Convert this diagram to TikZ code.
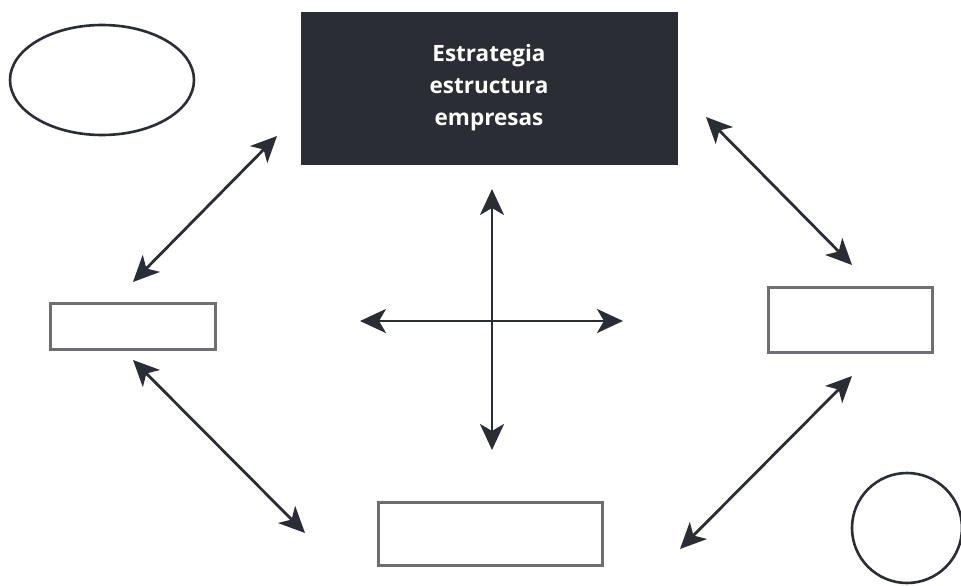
\documentclass[tikz,border=0pt]{standalone}
\usepackage{fontspec}
\setmainfont{Open Sans}
\usetikzlibrary{arrows.meta}
\definecolor{ink}{HTML}{2B2D35}
\definecolor{framegray}{HTML}{6E6E72}
\tikzset{
  every picture/.style={x=1pt,y=-1pt},
  titlebox/.style={fill=ink,draw=ink,minimum width=376pt,minimum height=152pt,inner sep=0pt,
    text=white,font=\bfseries\fontsize{22.5}{32}\selectfont,align=center},
  emptybox/.style={draw=framegray,line width=2.2pt,inner sep=0pt},
  outline/.style={draw=ink,line width=2.6pt},
  twoway/.style={draw=ink,line width=2.8pt,
    {Stealth[length=26pt,width=24pt,inset=7pt]}-{Stealth[length=26pt,width=24pt,inset=7pt]}}
}
\begin{document}
\begin{tikzpicture}
\useasboundingbox (0,0) rectangle (961,586);
\fill[white] (0,0) rectangle (961,586);

% central title block
\node[titlebox] (title) at (489,88) {Estrategia\\estructura\\empresas};

% empty boxes around it
\node[emptybox,minimum width=165pt,minimum height=46pt] (leftbox) at (133,326.5) {};
\node[emptybox,minimum width=164pt,minimum height=65pt] (rightbox) at (850.5,320) {};
\node[emptybox,minimum width=224pt,minimum height=63pt] (bottombox) at (490.5,534) {};

% ellipse and circle
\draw[outline] (102,80) ellipse [x radius=92, y radius=55];
\draw[outline] (907,528) circle [radius=55];

% arrow end points
\coordinate (a1) at (277,136);  \coordinate (a2) at (133,282);
\coordinate (b1) at (706,117);  \coordinate (b2) at (852,265);
\coordinate (c1) at (133,360);  \coordinate (c2) at (305,533);
\coordinate (d1) at (852,376);  \coordinate (d2) at (680,549);
\coordinate (up) at (492,189);  \coordinate (down) at (492,450);
\coordinate (west) at (360,321); \coordinate (east) at (623,321);

% double-headed connectors
\draw[twoway] (a2) -- (a1);
\draw[twoway] (b1) -- (b2);
\draw[twoway] (c1) -- (c2);
\draw[twoway] (d2) -- (d1);
\draw[twoway] (up) -- (down);
\draw[twoway] (west) -- (east);
\end{tikzpicture}
\end{document}
